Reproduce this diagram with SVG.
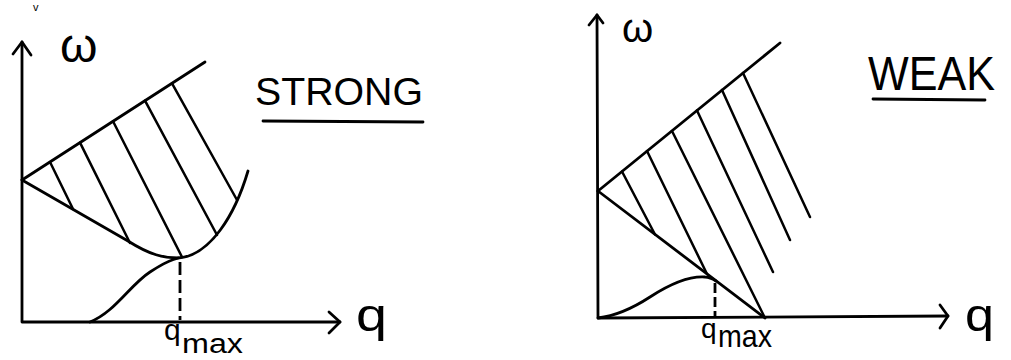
<svg xmlns="http://www.w3.org/2000/svg" width="1011" height="360" viewBox="0 0 1011 360">
<style>
.ln{fill:none;stroke:#000;stroke-width:2.8;stroke-linecap:round;stroke-linejoin:round}
.hat{fill:none;stroke:#000;stroke-width:2.5;stroke-linecap:round}
.dash{fill:none;stroke:#000;stroke-width:2.8;stroke-dasharray:13 5}
.t{font-family:"Liberation Sans","DejaVu Sans",sans-serif;fill:#000}
</style>
<rect width="1011" height="360" fill="#fff"/>
<text class="t" x="33" y="11" font-size="11">v</text>
<g id="panel-strong">
  <g id="strong-axes">
    <polyline class="ln" points="22,42 22,322 340,322"/>
    <polyline class="ln" points="13,54 22,42 31,55"/>
    <polyline class="ln" points="329,312 340,322 329,333"/>
  </g>
  <g id="strong-curves">
    <line class="ln" x1="22" y1="180" x2="205" y2="62"/>
    <path class="ln" d="M22,180 L128,241 C150,255 164,258 178,258 C210,256 235,215 248,171"/>
    <path class="ln" d="M90,322 C115,312 130,285 150,272 S170,261 178,258"/>
    <line class="dash" x1="180" y1="262" x2="180" y2="320"/>
  </g>
  <g id="strong-hatch">
    <line class="hat" x1="50" y1="162" x2="73" y2="209"/>
    <line class="hat" x1="80" y1="142.6" x2="130" y2="243"/>
    <line class="hat" x1="113" y1="121.3" x2="182" y2="257"/>
    <line class="hat" x1="145" y1="100.7" x2="217" y2="235"/>
    <line class="hat" x1="172" y1="83.3" x2="237" y2="200"/>
  </g>
  <g id="strong-labels">
    <text class="t" x="60" y="62" font-size="48">ω</text>
    <text class="t" x="356" y="331" font-size="46" textLength="31" lengthAdjust="spacingAndGlyphs">q</text>
    <text class="t" x="164" y="340" font-size="30">q</text>
    <text class="t" x="182" y="353" font-size="27" textLength="61" lengthAdjust="spacingAndGlyphs">max</text>
    <text class="t" x="255" y="105" font-size="39" textLength="168" lengthAdjust="spacingAndGlyphs">STRONG</text>
    <line class="ln" x1="263" y1="121" x2="423" y2="122"/>
  </g>
</g>
<g id="panel-weak">
  <g id="weak-axes">
    <polyline class="ln" points="597,15 598,318 948,316"/>
    <polyline class="ln" points="589,25 597,15 603,23"/>
    <polyline class="ln" points="940,305 948,316 940,328"/>
  </g>
  <g id="weak-curves">
    <line class="ln" x1="598" y1="191" x2="780" y2="43"/>
    <line class="ln" x1="598" y1="191" x2="765" y2="318"/>
    <path class="ln" d="M598,318 C615,316 630,310 650,297 C670,284 690,276 705,277 C710,277 713,279 716,281"/>
    <line class="dash" x1="715" y1="283" x2="715" y2="317" style="stroke-dasharray:10 4"/>
  </g>
  <g id="weak-hatch">
    <line class="hat" x1="622" y1="171.5" x2="655" y2="234.5"/>
    <line class="hat" x1="647" y1="151" x2="707" y2="274"/>
    <line class="hat" x1="672" y1="131" x2="765" y2="318"/>
    <line class="hat" x1="697" y1="110.5" x2="773" y2="272"/>
    <line class="hat" x1="722" y1="90" x2="790" y2="240"/>
    <line class="hat" x1="743" y1="73" x2="810" y2="217"/>
  </g>
  <g id="weak-labels">
    <text class="t" x="622" y="42" font-size="40">ω</text>
    <text class="t" x="965" y="331" font-size="46" textLength="29" lengthAdjust="spacingAndGlyphs">q</text>
    <text class="t" x="701" y="338" font-size="28">q</text>
    <text class="t" x="718" y="347" font-size="32" textLength="54" lengthAdjust="spacingAndGlyphs">max</text>
    <text class="t" x="868" y="90" font-size="48" textLength="127" lengthAdjust="spacingAndGlyphs">WEAK</text>
    <line class="ln" x1="873" y1="99" x2="985" y2="100"/>
  </g>
</g>
</svg>
